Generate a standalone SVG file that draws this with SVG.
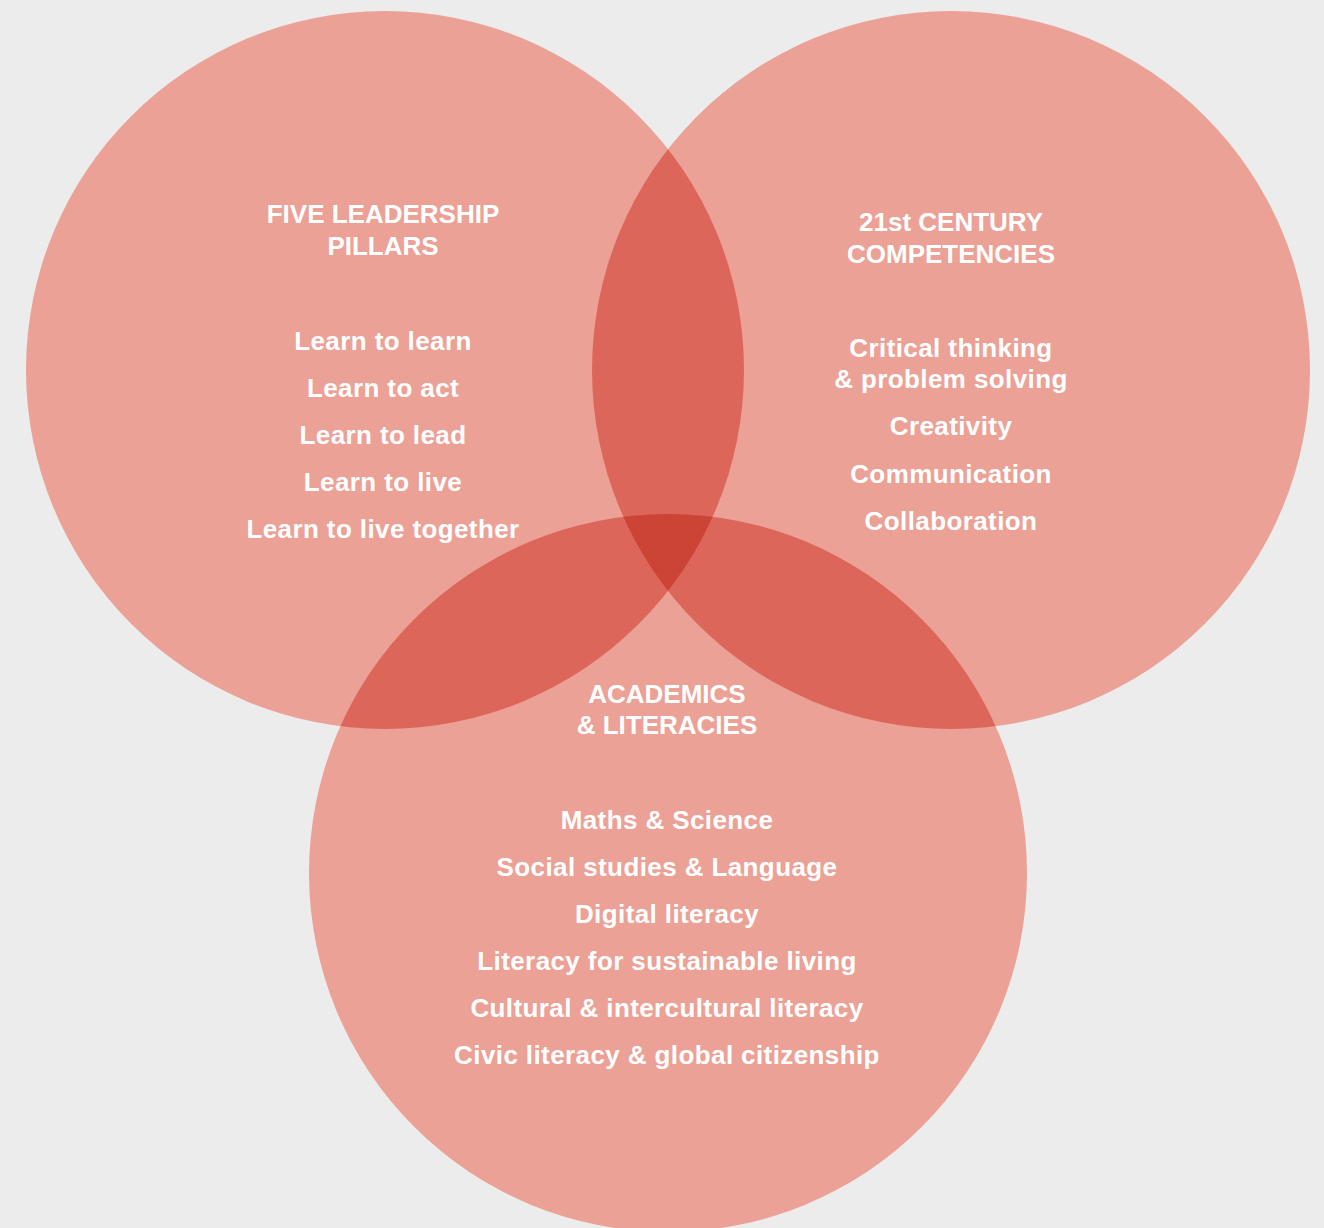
<svg xmlns="http://www.w3.org/2000/svg" width="1324" height="1228" viewBox="0 0 1324 1228">
  <style>
    .c { fill: #eba196; }
    .d { fill: #dd665a; }
    .t { fill: #cc4436; }
    text { font-family: "Liberation Sans", Arial, sans-serif; font-weight: bold; font-size: 26px; fill: #ffffff; text-anchor: middle; }
    text.i { letter-spacing: 0.4px; }
  </style>
  <defs>
    <clipPath id="clip1"><circle cx="385" cy="370" r="359"/></clipPath>
    <clipPath id="clip2"><circle cx="951" cy="370" r="359"/></clipPath>
  </defs>
  <rect x="0" y="0" width="1324" height="1228" fill="#ececec"/>
  <g id="shapes">
    <circle class="c" cx="385" cy="370" r="359"/>
    <circle class="c" cx="951" cy="370" r="359"/>
    <circle class="c" cx="668" cy="873" r="359"/>
    <g clip-path="url(#clip1)">
      <circle class="d" cx="951" cy="370" r="359"/>
      <circle class="d" cx="668" cy="873" r="359"/>
    </g>
    <g clip-path="url(#clip2)">
      <circle class="d" cx="668" cy="873" r="359"/>
    </g>
    <g clip-path="url(#clip1)">
      <g clip-path="url(#clip2)">
        <circle class="t" cx="668" cy="873" r="359"/>
      </g>
    </g>
  </g>
  <g id="node-leadership">
    <text x="383" y="223">FIVE LEADERSHIP</text>
    <text x="383" y="255">PILLARS</text>
    <text class="i" x="383" y="350">Learn to learn</text>
    <text class="i" x="383" y="397">Learn to act</text>
    <text class="i" x="383" y="444">Learn to lead</text>
    <text class="i" x="383" y="491">Learn to live</text>
    <text class="i" x="383" y="538">Learn to live together</text>
  </g>
  <g id="node-competencies">
    <text x="951" y="231">21st CENTURY</text>
    <text x="951" y="263">COMPETENCIES</text>
    <text class="i" x="951" y="357">Critical thinking</text>
    <text class="i" x="951" y="388">&amp; problem solving</text>
    <text class="i" x="951" y="435">Creativity</text>
    <text class="i" x="951" y="483">Communication</text>
    <text class="i" x="951" y="530">Collaboration</text>
  </g>
  <g id="node-academics">
    <text x="667" y="703">ACADEMICS</text>
    <text x="667" y="734">&amp; LITERACIES</text>
    <text class="i" x="667" y="829">Maths &amp; Science</text>
    <text class="i" x="667" y="876">Social studies &amp; Language</text>
    <text class="i" x="667" y="923">Digital literacy</text>
    <text class="i" x="667" y="970">Literacy for sustainable living</text>
    <text class="i" x="667" y="1017">Cultural &amp; intercultural literacy</text>
    <text class="i" x="667" y="1064">Civic literacy &amp; global citizenship</text>
  </g>
</svg>
